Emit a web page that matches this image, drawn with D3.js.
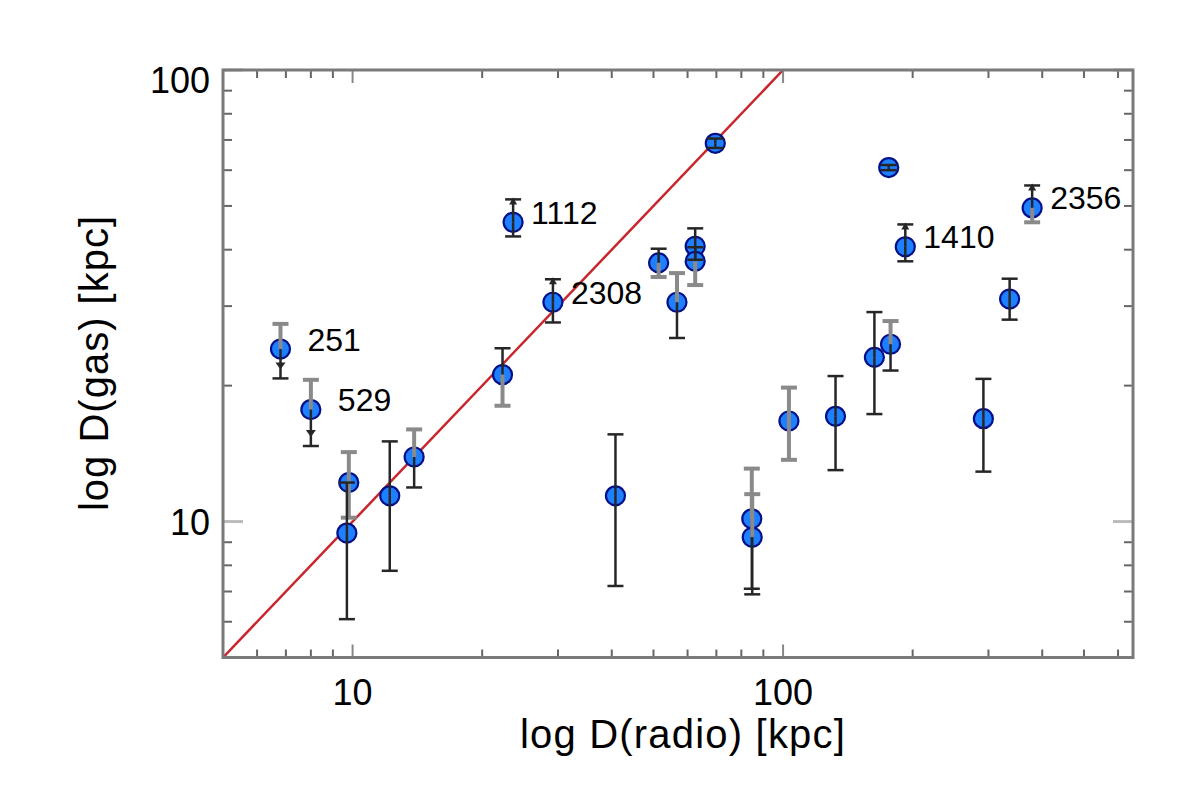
<!DOCTYPE html>
<html>
<head>
<meta charset="utf-8">
<script src="https://cdn.jsdelivr.net/npm/d3@7"></script>
<style>
  body { margin: 0; background: #fff; }
  svg { display: block; font-family: "Liberation Sans", Arial, sans-serif; }
</style>
</head>
<body>
<div id="chart"></div>
<script>
// D(radio), D(gas) in kpc, with gas error range
var radio  = [6.8, 8.0, 9.8, 9.7, 12.2, 13.9, 22.3, 23.6, 29.2, 69.6, 51.4, 56.7, 62.5, 62.5, 40.8, 84.6, 84.8, 103.2, 132.4, 163, 177.7, 176, 192.3, 379, 336, 292];
var gas    = [24.1, 17.7, 12.2, 9.43, 11.4, 13.9, 21.15, 46.0, 30.6, 68.8, 37.4, 30.6, 40.7, 37.7, 11.4, 10.14, 9.23, 16.7, 17.1, 23.1, 24.7, 60.8, 40.6, 49.5, 31.1, 16.9];
var gasLo  = [20.75, 14.7, 10.2, 6.08, 7.78, 11.9, 18.05, 42.8, 27.6, 67.2, 34.8, 25.5, 38.0, 33.4, 7.2, 7.1, 6.9, 13.7, 13.0, 17.3, 21.6, 60.0, 37.7, 46.0, 28.0, 12.9];
var gasHi  = [27.4, 20.6, 14.25, 12.2, 15.05, 16.0, 24.2, 51.7, 34.4, 70.5, 40.2, 35.5, 44.6, 40.5, 15.6, 13.1, 11.5, 19.8, 21.0, 29.1, 27.8, 61.6, 45.5, 55.5, 34.5, 20.7];
// shade of upper / lower half of each error bar: g = grey, d = dark
var hiShade = ['g','g','g','d','d','g','d','d','d','d','d','g','d','d','d','g','g','g','d','d','g','d','d','d','d','d'];
var loShade = ['d','d','g','d','d','d','g','d','d','d','g','d','d','g','d','d','d','g','d','d','d','d','d','g','d','d'];
// limit arrows and cluster ids
var limit  = ['down','down','','','','','','up','up','','','','','','','','','','','','','','up','up','',''];
var names  = ['251','529','','','','','','1112','2308','','','','','','','','','','','','','','1410','2356','',''];

var xTicks = [10, 100];
var yTicks = [10, 100];

var W = 1200, H = 799;
var margin = {top: 70, left: 223, right: 67, bottom: 141.5};

var x = d3.scaleLog().domain([5, 650]).range([margin.left, W - margin.right]);
var y = d3.scaleLog().domain([5, 100]).range([H - margin.bottom, margin.top]);

var svg = d3.select('#chart').append('svg')
    .attr('width', W)
    .attr('height', H);

var pts = radio.map(function (d, i) {
    return {x: d, y: gas[i], lo: gasLo[i], hi: gasHi[i], hs: hiShade[i], ls: loShade[i], lim: limit[i], name: names[i]};
});

// one-to-one line
svg.append('clipPath').attr('id', 'plotClip')
    .append('rect')
    .attr('x', margin.left).attr('y', margin.top)
    .attr('width', W - margin.left - margin.right)
    .attr('height', H - margin.top - margin.bottom);

svg.append('line')
    .attr('clip-path', 'url(#plotClip)')
    .attr('x1', x(5)).attr('y1', y(5))
    .attr('x2', x(100)).attr('y2', y(100))
    .attr('stroke', '#c8262c')
    .attr('stroke-width', 2.5);

// frame and ticks
var axisCol = '#7a7a7a';
var x0 = x.range()[0], x1 = x.range()[1], y0 = y.range()[0], y1 = y.range()[1];

var minorX = x.ticks().filter(function (t) { return xTicks.indexOf(t) < 0; });
var minorY = y.ticks().filter(function (t) { return yTicks.indexOf(t) < 0; });

var tk = svg.append('g');
minorX.forEach(function (t) {
    tk.append('line').attr('x1', x(t)).attr('x2', x(t)).attr('y1', y0).attr('y2', y0 - 8)
        .attr('stroke', '#666').attr('stroke-width', 2);
    tk.append('line').attr('x1', x(t)).attr('x2', x(t)).attr('y1', y1).attr('y2', y1 + 8)
        .attr('stroke', '#666').attr('stroke-width', 2);
});
xTicks.forEach(function (t) {
    tk.append('line').attr('x1', x(t)).attr('x2', x(t)).attr('y1', y0).attr('y2', y0 - 13)
        .attr('stroke', '#888').attr('stroke-width', 2);
    tk.append('line').attr('x1', x(t)).attr('x2', x(t)).attr('y1', y1).attr('y2', y1 + 13)
        .attr('stroke', '#888').attr('stroke-width', 2);
});
minorY.forEach(function (t) {
    tk.append('line').attr('x1', x0).attr('x2', x0 + 9).attr('y1', y(t)).attr('y2', y(t))
        .attr('stroke', '#666').attr('stroke-width', 2);
    tk.append('line').attr('x1', x1).attr('x2', x1 - 9).attr('y1', y(t)).attr('y2', y(t))
        .attr('stroke', '#666').attr('stroke-width', 2);
});
yTicks.forEach(function (t) {
    tk.append('line').attr('x1', x0).attr('x2', x0 + 20).attr('y1', y(t)).attr('y2', y(t))
        .attr('stroke', '#bbb').attr('stroke-width', 3);
    tk.append('line').attr('x1', x1).attr('x2', x1 - 20).attr('y1', y(t)).attr('y2', y(t))
        .attr('stroke', '#bbb').attr('stroke-width', 3);
});

svg.append('rect')
    .attr('x', x0).attr('y', y1)
    .attr('width', x1 - x0).attr('height', y0 - y1)
    .attr('fill', 'none')
    .attr('stroke', axisCol)
    .attr('stroke-width', 3);

// tick labels
svg.selectAll('.xlab').data(xTicks).enter().append('text')
    .attr('x', function (d) { return x(d); })
    .attr('y', 705)
    .attr('text-anchor', 'middle')
    .style('font-size', '36px')
    .text(function (d) { return d; });

svg.selectAll('.ylab').data(yTicks).enter().append('text')
    .attr('x', 210)
    .attr('y', function (d) { return Math.max(y(d), 80); })
    .attr('dy', '0.36em')
    .attr('text-anchor', 'end')
    .style('font-size', '36px')
    .text(function (d) { return d; });

// axis titles
svg.append('text')
    .attr('x', 683).attr('y', 748)
    .attr('text-anchor', 'middle')
    .style('font-size', '40px')
    .style('letter-spacing', '1.2px')
    .text('log D(radio) [kpc]');

svg.append('text')
    .attr('transform', 'translate(108,363) rotate(-90)')
    .attr('text-anchor', 'middle')
    .style('font-size', '40px')
    .style('letter-spacing', '1px')
    .text('log D(gas) [kpc]');

// markers
svg.append('g').selectAll('circle').data(pts).enter().append('circle')
    .attr('cx', function (d) { return x(d.x); })
    .attr('cy', function (d) { return y(d.y); })
    .attr('r', 9.5)
    .attr('fill', '#1f80ff')
    .attr('stroke', '#001088')
    .attr('stroke-width', 2.2);

// error bars (drawn over the markers)
var shadeCol = {g: '#8a8a8a', d: '#262626'};
var shadeW = {g: 4, d: 2.5};
var eb = svg.append('g');
pts.forEach(function (d) {
    var cx = x(d.x);
    eb.append('line').attr('x1', cx).attr('x2', cx).attr('y1', y(d.y)).attr('y2', y(d.hi))
        .attr('stroke', shadeCol[d.hs]).attr('stroke-width', shadeW[d.hs]);
    eb.append('line').attr('x1', cx).attr('x2', cx).attr('y1', y(d.y)).attr('y2', y(d.lo))
        .attr('stroke', shadeCol[d.ls]).attr('stroke-width', shadeW[d.ls]);
    eb.append('line').attr('x1', cx - 8).attr('x2', cx + 8).attr('y1', y(d.hi)).attr('y2', y(d.hi))
        .attr('stroke', shadeCol[d.hs]).attr('stroke-width', d.hs === 'g' ? 4 : 2.5);
    eb.append('line').attr('x1', cx - 8).attr('x2', cx + 8).attr('y1', y(d.lo)).attr('y2', y(d.lo))
        .attr('stroke', shadeCol[d.ls]).attr('stroke-width', d.ls === 'g' ? 4 : 2.5);
    if (d.lim === 'up') {
        var ty = y(d.hi) - 2;
        eb.append('path')
            .attr('d', 'M' + (cx - 4) + ',' + (ty + 7) + 'L' + cx + ',' + ty + 'L' + (cx + 4) + ',' + (ty + 7) + 'Z')
            .attr('fill', '#262626');
    } else if (d.lim === 'down') {
        var by = y(d.lo) - 9;
        eb.append('path')
            .attr('d', 'M' + (cx - 5) + ',' + (by - 7) + 'L' + cx + ',' + by + 'L' + (cx + 5) + ',' + (by - 7) + 'Z')
            .attr('fill', '#262626');
    }
});

// cluster names
svg.append('g').selectAll('text').data(pts.filter(function (d) { return d.name; })).enter().append('text')
    .attr('x', function (d) { return x(d.x) + (d.lim === 'down' ? 27 : 18); })
    .attr('y', function (d) { return y(d.y) - 10; })
    .attr('dy', '0.36em')
    .style('font-size', '32px')
    .text(function (d) { return d.name; });
</script>
</body>
</html>
